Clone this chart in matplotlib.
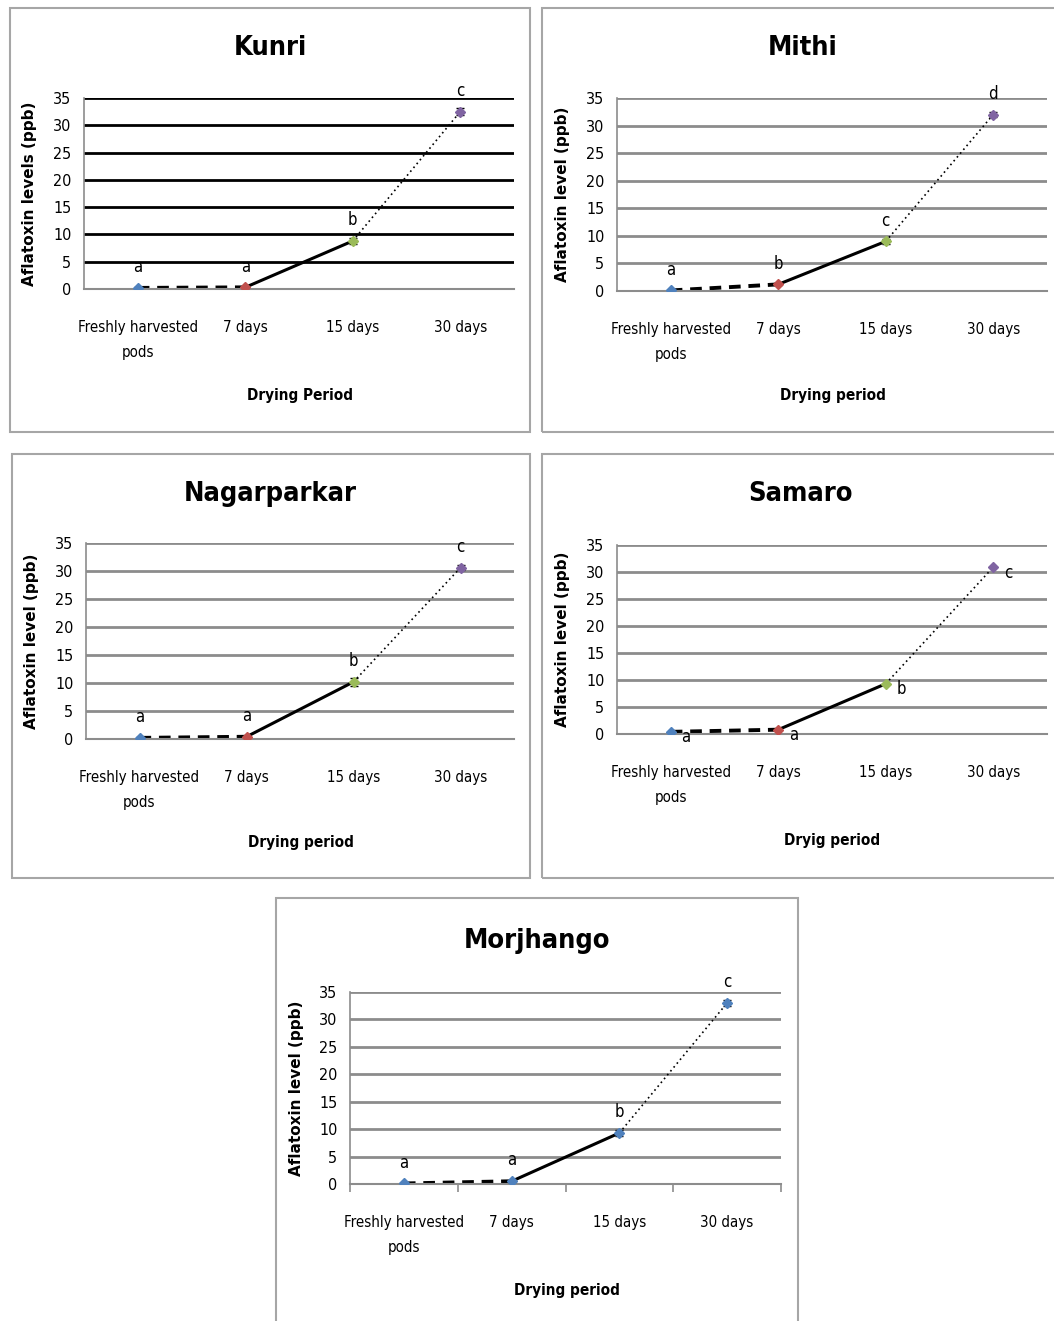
import matplotlib
matplotlib.use('Agg')
import matplotlib.pyplot as plt
from matplotlib.patches import Rectangle

W, H = 1054, 1321

# data
categories = ['Freshly harvested\npods', '7 days', '15 days', '30 days']
kunri = [0.2, 0.3, 8.8, 32.5]
mithi = [0.1, 1.2, 9.0, 32.0]
nagarparkar = [0.2, 0.4, 10.2, 30.6]
samaro = [0.4, 0.8, 9.3, 30.9]
morjhango = [0.1, 0.5, 9.3, 33.0]
err_kunri = [0.1, 0.1, 0.6, 0.7]
err_mithi = [0.1, 0.2, 0.5, 0.5]
err_nagar = [0.1, 0.1, 0.7, 0.5]
err_samaro = [0.0, 0.0, 0.0, 0.0]
err_morj = [0.1, 0.1, 0.6, 0.5]
letters_kunri = ['a', 'a', 'b', 'c']
letters_mithi = ['a', 'b', 'c', 'd']
letters_nagar = ['a', 'a', 'b', 'c']
letters_samaro = ['a', 'a', 'b', 'c']
letters_morj = ['a', 'a', 'b', 'c']
yticks = [0, 5, 10, 15, 20, 25, 30, 35]

office_cols = ['#4F81BD', '#C0504D', '#9BBB59', '#8064A2']

fig = plt.figure(figsize=(W / 100, H / 100), dpi=100)
NARROW = dict(family='DejaVu Sans', stretch='condensed')


def box(x0, y0, x1, y1):
    fig.patches.append(Rectangle((x0 / W, 1 - y1 / H), (x1 - x0) / W, (y1 - y0) / H,
                                 transform=fig.transFigure, fill=False,
                                 edgecolor='#a6a6a6', lw=1.5))


def panel(rect, ylab_x, title, title_xy, xlab, xlab_xy, ylab, vals, errs, letters,
          grid_col, grid_lw, colors, letter_side=False, xticks_marks=False):
    x0, y0, x1, y1 = rect
    ax = fig.add_axes([x0 / W, 1 - y1 / H, (x1 - x0) / W, (y1 - y0) / H])
    ax.set_xlim(-0.5, 3.5)
    ax.set_ylim(0, 35)
    ax.yaxis.grid(True, color=grid_col, lw=grid_lw)
    ax.set_axisbelow(True)
    for s in ['top', 'right']:
        ax.spines[s].set_visible(False)
    ax.spines['left'].set_color('#8c8c8c')
    ax.spines['bottom'].set_color('#8c8c8c')
    ax.spines['left'].set_lw(1.2)
    ax.spines['bottom'].set_lw(1.5)
    ax.tick_params(axis='y', length=0, pad=9)
    ax.set_yticks(yticks)
    ax.set_yticklabels([str(v) for v in yticks], fontsize=11.5, **NARROW)
    xs = list(range(4))
    ax.set_xticks(xs)
    ax.set_xticklabels(categories, fontsize=10.8, linespacing=1.9, **NARROW)
    if xticks_marks:
        ax.set_xticks([-0.5, 0.5, 1.5, 2.5, 3.5], minor=True)
        ax.tick_params(axis='x', which='minor', length=6, color='#8c8c8c', width=1.2)
    ax.tick_params(axis='x', which='major', length=0, pad=22)
    ax.plot(xs[0:2], vals[0:2], color='black', lw=2.8, ls=(0, (3, 2)))
    ax.plot(xs[1:3], vals[1:3], color='black', lw=2.2, ls='-')
    ax.plot(xs[2:4], vals[2:4], color='black', lw=1.2, ls=(0, (1, 2)))
    ax.errorbar(xs, vals, yerr=errs, fmt='none', ecolor='black', elinewidth=1,
                capsize=3, zorder=4)
    for i in xs:
        ax.plot(xs[i], vals[i], marker='D', ms=5, color=colors[i], ls='none', zorder=5)
        if letter_side:
            ax.annotate(letters[i], (xs[i], vals[i]), xytext=(11, -4),
                        textcoords='offset points', ha='center', va='center',
                        fontsize=12, **NARROW)
        else:
            ax.annotate(letters[i], (xs[i], vals[i]), xytext=(0, 15),
                        textcoords='offset points', ha='center', va='center',
                        fontsize=12, **NARROW)
    ax.set_ylabel(ylab, fontsize=11, fontweight='bold')
    ax.yaxis.set_label_coords((ylab_x - x0) / (x1 - x0), 0.5)
    fig.text(title_xy[0] / W, 1 - title_xy[1] / H, title, ha='center', va='center',
             fontsize=19.5, fontweight='bold', **NARROW)
    fig.text(xlab_xy[0] / W, 1 - xlab_xy[1] / H, xlab, ha='center', va='center',
             fontsize=11, fontweight='bold', **NARROW)
    return ax


box(10, 8, 530, 432)
box(542, 8, 1060, 432)
box(12, 454, 530, 878)
box(542, 454, 1060, 878)
box(276, 898, 798, 1330)

panel((84, 98, 514, 289), 37, 'Kunri', (270, 48), 'Drying Period', (300, 396),
      'Aflatoxin levels (ppb)', kunri, err_kunri, letters_kunri,
      'black', 2.0, office_cols)
panel((617, 98, 1047, 291), 570, 'Mithi', (803, 48), 'Drying period', (833, 396),
      'Aflatoxin level (ppb)', mithi, err_mithi, letters_mithi,
      '#8c8c8c', 2.0, office_cols)
panel((86, 543, 514, 739), 39, 'Nagarparkar', (270, 494), 'Drying period', (301, 842),
      'Aflatoxin level (ppb)', nagarparkar, err_nagar, letters_nagar,
      '#8c8c8c', 2.0, office_cols)
panel((617, 545, 1047, 734), 570, 'Samaro', (801, 494), 'Dryig period', (832, 841),
      'Aflatoxin level (ppb)', samaro, err_samaro, letters_samaro,
      '#8c8c8c', 2.0, office_cols, letter_side=True)
panel((350, 992, 781, 1184), 304, 'Morjhango', (537, 941), 'Drying period', (567, 1290),
      'Aflatoxin level (ppb)', morjhango, err_morj, letters_morj,
      '#8c8c8c', 2.0, ['#4F81BD'] * 4, xticks_marks=True)

fig.savefig('out.png', dpi=100)
